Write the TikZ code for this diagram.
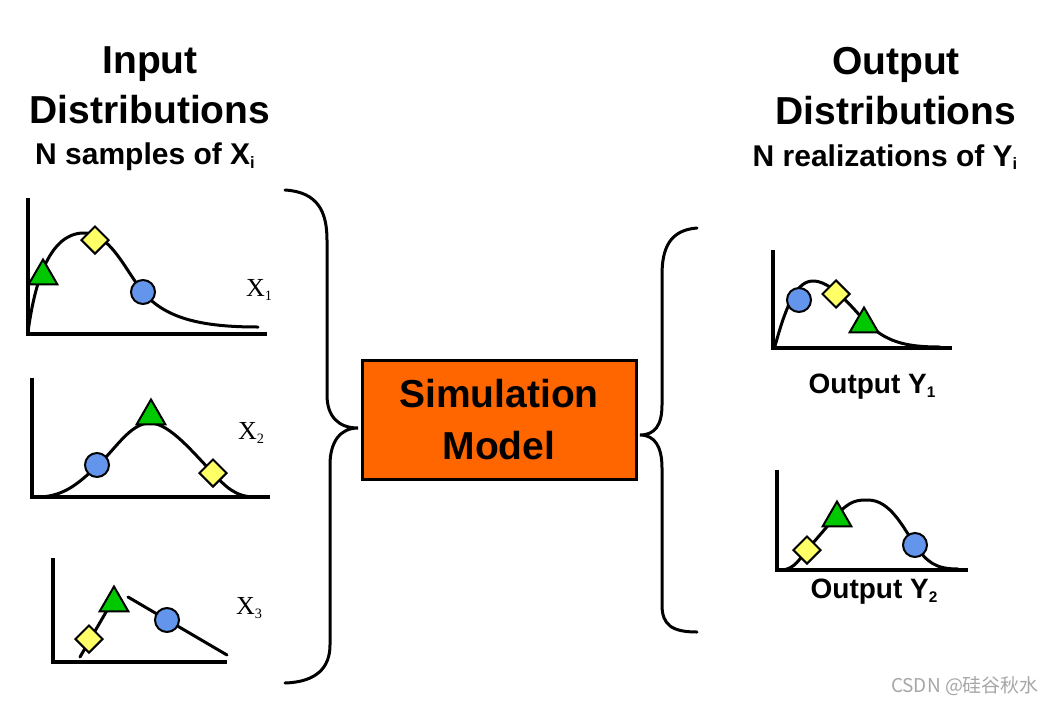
\documentclass[tikz,border=0pt]{standalone}
\usepackage{fontspec}
\setmainfont{Liberation Sans}
\newfontfamily\serifx{Liberation Serif}
\newfontfamily\cjk{Noto Sans CJK SC}
\usetikzlibrary{shapes.geometric}
\definecolor{boxorange}{HTML}{FF6600}
\definecolor{trigreen}{HTML}{00C800}
\definecolor{diayellow}{HTML}{FFFF66}
\definecolor{dotblue}{HTML}{6495ED}
\newcommand{\mysub}[1]{\raisebox{-0.12em}{\fontsize{0.55em}{0.6em}\selectfont #1}}
\begin{document}
\begin{tikzpicture}[x=1pt,y=-1pt,
  axis/.style={line width=4pt, line join=miter},
  curve/.style={line width=3pt, line cap=round},
  brace/.style={line width=3pt, line cap=round},
  tri/.style={regular polygon, regular polygon sides=3, minimum size=33pt, inner sep=0pt, draw, line width=2pt, fill=trigreen},
  dia/.style={diamond, minimum width=28pt, minimum height=28pt, inner sep=0pt, draw, line width=2pt, fill=diayellow},
  dot/.style={circle, minimum size=24pt, inner sep=0pt, draw, line width=2pt, fill=dotblue},
  head/.style={font=\bfseries\fontsize{39}{50}\selectfont, align=center, inner sep=0pt},
  sub/.style={font=\bfseries\fontsize{30}{36}\selectfont, inner sep=0pt},
  xlab/.style={font=\serifx\fontsize{26}{30}\selectfont, inner sep=0pt},
  ylab/.style={font=\bfseries\fontsize{28}{34}\selectfont, inner sep=0pt},
  model/.style={draw, line width=3pt, fill=boxorange, minimum width=274pt, minimum height=119pt, inner sep=0pt, align=center, font=\bfseries\fontsize{39}{52}\selectfont}
]
\useasboundingbox (0,0) rectangle (1050,702);

% headings
\node[head] (inhead) at (150,85) {Input\\Distributions};
\node[sub] (insub) at (145,157) {N samples of X\mysub{i}};
\node[head] (outhead) at (896,86) {Output\\Distributions};
\node[sub] (outsub) at (885,157) {N realizations of Y\mysub{i}};

% braces
\coordinate (ltip) at (358,428);
\coordinate (rtip) at (640,435);
\draw[brace] (285,190) .. controls (318,192) and (327,212) .. (327,240) -- (327,395)
  .. controls (327,416) and (338,428) .. (ltip)
  .. controls (340,428) and (330,442) .. (330,465) -- (330,645)
  .. controls (330,668) and (316,682) .. (285,683);
\draw[brace] (697,228) .. controls (670,230) and (662,248) .. (662,275) -- (662,405)
  .. controls (662,425) and (655,435) .. (rtip)
  .. controls (655,435) and (662,447) .. (662,468) -- (662,605)
  .. controls (662,625) and (672,632) .. (697,632);

% model box
\node[model] (box) at (499,419.5) {Simulation\\Model};

% plot X1
\draw[axis] (28,198) -- (28,334) -- (267,334);
\draw[curve] (28,332) .. controls (35,280) and (50,234) .. (83,233)
  .. controls (110,232) and (125,270) .. (143,292)
  .. controls (165,318) and (200,327) .. (258,327);
\node[tri] (t1) at (43,276) {};
\node[dia] (d1) at (95,240) {};
\node[dot] (c1) at (143,292) {};
\node[xlab] (x1) at (259,290) {X\mysub{1}};

% plot X2
\draw[axis] (32,378) -- (32,497) -- (270,497);
\draw[curve] (40,497) .. controls (65,496) and (80,482) .. (97,466)
  .. controls (115,450) and (130,423) .. (150,423)
  .. controls (170,423) and (195,455) .. (213,473)
  .. controls (225,486) and (235,497) .. (255,497);
\node[dot] (c2) at (97,465) {};
\node[tri] (t2) at (151,416) {};
\node[dia] (d2) at (213,473) {};
\node[xlab] (x2) at (251,433) {X\mysub{2}};

% plot X3
\draw[axis] (53,558) -- (53,662) -- (227,662);
\draw[curve] (80,657) -- (113,600);
\draw[curve] (128,597) -- (227,655);
\node[dia] (d3) at (89,639) {};
\node[tri] (t3) at (114,603) {};
\node[dot] (c3) at (167,620) {};
\node[xlab] (x3) at (249,608) {X\mysub{3}};

% plot Y1
\draw[axis] (773,250) -- (773,348) -- (952,348);
\draw[curve] (775,346) .. controls (785,310) and (795,282) .. (812,281)
  .. controls (830,280) and (850,305) .. (864,320)
  .. controls (885,342) and (905,347) .. (940,347);
\node[dot] (c4) at (799,300) {};
\node[dia] (d4) at (836,294) {};
\node[tri] (t4) at (864,324) {};
\node[ylab] (y1) at (872,387) {Output Y\mysub{1}};

% plot Y2
\draw[axis] (777,470) -- (777,570) -- (968,570);
\draw[curve] (782,570) .. controls (795,569) and (800,558) .. (807,550) -- (837,515)
  .. controls (850,500) and (858,500) .. (868,500)
  .. controls (890,500) and (903,527) .. (915,545)
  .. controls (927,562) and (935,569) .. (958,569);
\node[dia] (d5) at (807,550) {};
\node[tri] (t5) at (837,518) {};
\node[dot] (c5) at (915,545) {};
\node[ylab] (y2) at (874,592) {Output Y\mysub{2}};

% watermark
\node[font=\cjk\fontsize{19}{22}\selectfont, text=black!35, inner sep=0pt] (wm) at (965,686) {CSDN @硅谷秋水};
\end{tikzpicture}
\end{document}
